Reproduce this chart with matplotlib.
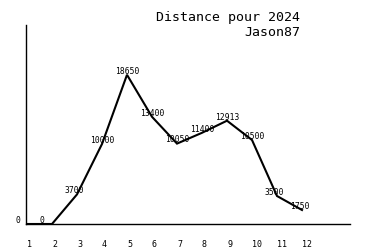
import matplotlib
matplotlib.use('Agg')
import matplotlib.pyplot as plt

# monthly distances
months = [1, 2, 3, 4, 5, 6, 7, 8, 9, 10, 11, 12]
distances = [0, 0, 3700, 10000, 18650, 13400, 10050, 11400, 12913, 10500, 3500, 1750]
title_lines = ['Distance pour 2024', 'Jason87']

plt.rcParams['font.family'] = 'DejaVu Sans Mono'

fig = plt.figure(figsize=(3.75, 2.5), dpi=100)
ax = fig.add_axes([26 / 375, 26 / 250, 324 / 375, 199 / 250])
ax.set_xlim(0.96, 13.92)
ax.set_ylim(0, 24875)

ax.plot(months, distances, color='black', linewidth=1.5, solid_joinstyle='miter')

# value labels, shifted left of the point
for m, d in zip(months, distances):
    ax.annotate(str(d), (m, d), xytext=(-12 * 0.72, -0.6), textcoords='offset points',
                ha='left', va='bottom', fontsize=5.8, color='black')

# month labels under the axis
for m in months:
    ax.annotate(str(m), (m, 0), xytext=(0, -14.5), textcoords='offset points',
                ha='left', va='center', fontsize=6, color='black',
                annotation_clip=False)

for side in ['top', 'right']:
    ax.spines[side].set_visible(False)
for side in ['left', 'bottom']:
    ax.spines[side].set_linewidth(1.0)
ax.set_xticks([])
ax.set_yticks([])

fig.text(300 / 375, 1 - 18 / 250, title_lines[0], ha='right', va='center', fontsize=9.5)
fig.text(300 / 375, 1 - 33 / 250, title_lines[1], ha='right', va='center', fontsize=9.5)

fig.savefig('out.png', dpi=100)
